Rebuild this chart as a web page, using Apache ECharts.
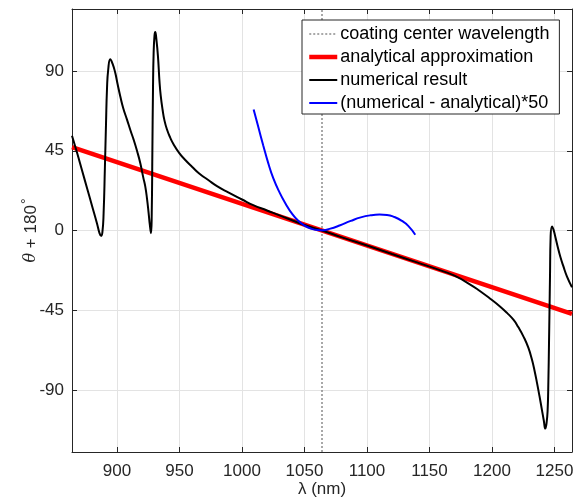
<!DOCTYPE html>
<html>
<head>
<meta charset="utf-8">
<script src="https://cdn.jsdelivr.net/npm/echarts@6/dist/echarts.min.js"></script>
<style>html,body{margin:0;padding:0;background:#fff;}#c{width:579px;height:502px;}</style>
</head>
<body>
<div id="c"></div>
<script>
const xMin = 864, xMax = 1264;
const yMin = -125, yMax = 125;
const xTicks = [900, 950, 1000, 1050, 1100, 1150, 1200, 1250];
const yTicks = [-90, -45, 0, 45, 90];
const centerWavelength = 1064;

const anaLambda = [864, 1264];
const anaTheta = [47, -47];

const numLambda = [864, 868, 872, 876, 880, 884, 886, 887.2, 888.3, 889.3, 890.3, 891.2, 892, 893, 894.6, 896.5, 898.6, 900.5, 902.6, 905, 908, 911, 913.3, 916, 918.6, 921, 922.6, 924, 925.3, 926.3, 927.2, 927.8, 928.3, 928.8, 929.3, 930, 930.6, 931.5, 932.8, 934, 935, 936.5, 938, 940, 942.5, 945, 950, 955, 960, 966, 973, 980, 989, 1000, 1009, 1020, 1030, 1040, 1050, 1064, 1080, 1100, 1120, 1140, 1160, 1170, 1182.6, 1190, 1198.6, 1206.6, 1212, 1217.3, 1221, 1225.3, 1229, 1232, 1234, 1236, 1238, 1240, 1241.5, 1242.6, 1243.6, 1244.5, 1245.1, 1245.6, 1246, 1246.4, 1246.9, 1248, 1249.2, 1250.6, 1252.5, 1254.6, 1257, 1260, 1264];
const numTheta = [53.5, 44, 34, 24, 14, 4, -1.5, -3, -1, 10, 35, 60, 80, 91, 96.6, 94, 89, 82.5, 75.8, 69, 62.6, 56, 51.3, 45, 38.1, 30, 24.9, 18, 9.8, 3, -1.5, 10, 45, 80, 100, 110, 112, 108, 98, 84, 76, 68, 62, 57, 52.5, 49, 43.5, 39.5, 36, 32, 28.5, 25, 21.5, 17.5, 14.3, 11.3, 8.5, 5.8, 3.1, 0, -3.9, -8.5, -13.3, -18, -22.8, -25.5, -30.5, -34, -38.5, -43, -46.5, -50.5, -54.5, -60, -66, -73, -79, -86, -93.5, -101.5, -107.5, -111.8, -109, -101.5, -85, -63.7, -45, -26, -3.4, 2.3, 0.5, -3.4, -9, -14.7, -20, -26, -32];

const diffLambda = [1009.3, 1013, 1017, 1021, 1025, 1030, 1035, 1040, 1045, 1050, 1055, 1060, 1065, 1070, 1078, 1087, 1095, 1103, 1110, 1116, 1122, 1128, 1133, 1138.6];
const diffTheta = [68.3, 58.5, 48, 38, 29.5, 21.5, 15, 9.5, 5.5, 2.8, 1.1, 0.3, 0.2, 0.9, 2.8, 5.4, 7.4, 8.6, 9.0, 8.8, 7.6, 5.4, 2.6, -2.4];

const zip = (a, b) => a.map((v, i) => [v, b[i]]);
const axisColor = '#262626';
const font = 'Liberation Sans, Helvetica, Arial, sans-serif';
const plain = v => String(v);

const chart = echarts.init(document.getElementById('c'), null, {renderer: 'canvas'});
chart.setOption({
  animation: false,
  backgroundColor: '#fff',
  grid: {left: 72, right: 7, top: 9, bottom: 50, containLabel: false, outerBoundsMode: 'none'},
  legend: {
    orient: 'vertical', left: 302, top: 20,
    backgroundColor: '#fff', borderColor: axisColor, borderWidth: 1,
    padding: [5, 10, 2, 5], itemGap: 5, itemWidth: 28, itemHeight: 14,
    itemStyle: {opacity: 0},
    textStyle: {fontFamily: font, fontSize: 18, color: '#000', padding: [0, 0, 0, -2]},
    data: [
      {name: 'coating center wavelength', lineStyle: {color: '#8c8c8c', width: 1.5, type: [2, 2]}},
      {name: 'analytical approximation', lineStyle: {color: '#ff0000', width: 4.5}},
      {name: 'numerical result', lineStyle: {color: '#000', width: 2}},
      {name: '(numerical - analytical)*50', lineStyle: {color: '#0000ff', width: 2}}
    ]
  },
  xAxis: [{
    type: 'value', min: xMin, max: xMax, position: 'bottom',
    name: '\u03bb (nm)', nameLocation: 'middle', nameGap: 29, nameMoveOverlap: false,
    nameTextStyle: {fontFamily: font, fontSize: 17, color: axisColor},
    axisLine: {show: true, onZero: false, lineStyle: {color: axisColor, width: 1}},
    axisTick: {show: true, inside: true, length: 5, customValues: xTicks, lineStyle: {color: axisColor}},
    axisLabel: {customValues: xTicks, formatter: plain, fontFamily: font, fontSize: 17, color: axisColor, margin: 11},
    splitLine: {show: true, customValues: xTicks, lineStyle: {color: '#e3e3e3', width: 1}}
  }, {
    type: 'value', min: xMin, max: xMax, position: 'top',
    axisLine: {show: true, onZero: false, lineStyle: {color: axisColor, width: 1}},
    axisTick: {show: true, inside: true, length: 5, customValues: xTicks, lineStyle: {color: axisColor}},
    axisLabel: {show: false}, splitLine: {show: false}
  }],
  yAxis: [{
    type: 'value', min: yMin, max: yMax, position: 'left',
    name: '{i|\u03b8} + 180{d|\u00b0}', nameLocation: 'middle', nameGap: 30, nameRotate: 90, nameMoveOverlap: false,
    nameTextStyle: {fontFamily: font, fontSize: 17, color: axisColor,
      rich: {i: {fontFamily: 'DejaVu Serif, serif', fontStyle: 'italic', fontSize: 16, color: axisColor},
             d: {fontFamily: font, fontSize: 14, color: axisColor, verticalAlign: 'top', padding: [0, 0, 8, 1]}}},
    axisLine: {show: true, onZero: false, lineStyle: {color: axisColor, width: 1}},
    axisTick: {show: true, inside: true, length: 5, customValues: yTicks, lineStyle: {color: axisColor}},
    axisLabel: {customValues: yTicks, formatter: plain, fontFamily: font, fontSize: 17, color: axisColor, margin: 8},
    splitLine: {show: true, customValues: yTicks, lineStyle: {color: '#e3e3e3', width: 1}}
  }, {
    type: 'value', min: yMin, max: yMax, position: 'right',
    axisLine: {show: true, onZero: false, lineStyle: {color: axisColor, width: 1}},
    axisTick: {show: true, inside: true, length: 5, customValues: yTicks, lineStyle: {color: axisColor}},
    axisLabel: {show: false}, splitLine: {show: false}
  }],
  series: [{
    name: 'coating center wavelength', type: 'line', symbol: 'none',
    data: [[centerWavelength, yMin], [centerWavelength, yMax]],
    lineStyle: {color: '#8c8c8c', width: 1.5, type: [2, 2]}, itemStyle: {color: '#8c8c8c'}
  }, {
    name: 'analytical approximation', type: 'line', symbol: 'none',
    data: zip(anaLambda, anaTheta),
    lineStyle: {color: '#ff0000', width: 4.5}, itemStyle: {color: '#ff0000'}
  }, {
    name: 'numerical result', type: 'line', symbol: 'none', smooth: true,
    data: zip(numLambda, numTheta),
    lineStyle: {color: '#000', width: 2}, itemStyle: {color: '#000'}
  }, {
    name: '(numerical - analytical)*50', type: 'line', symbol: 'none', smooth: true,
    data: zip(diffLambda, diffTheta),
    lineStyle: {color: '#0000ff', width: 2}, itemStyle: {color: '#0000ff'}
  }]
});
</script>
</body>
</html>
